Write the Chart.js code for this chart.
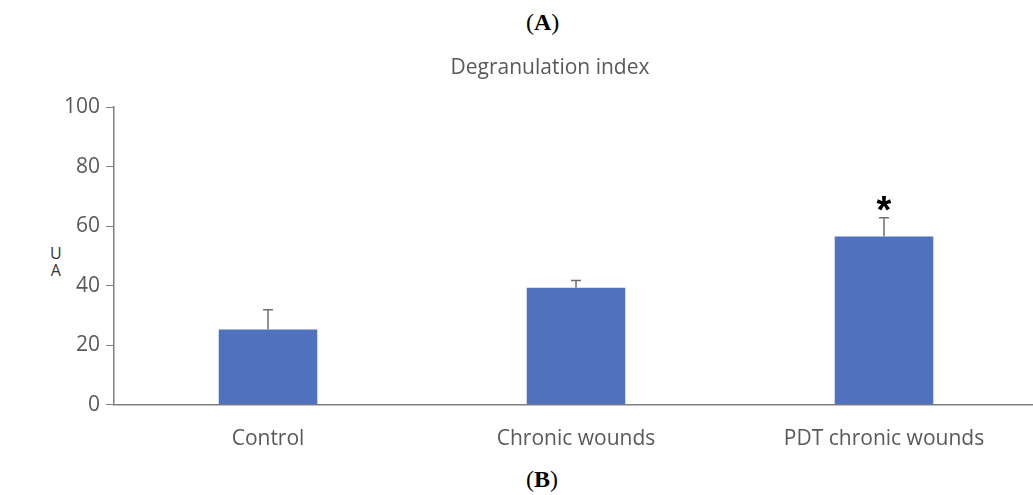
<!DOCTYPE html>
<html>
<head>
<meta charset="utf-8">
<script src="https://cdn.jsdelivr.net/npm/chart.js@4"></script>
<style>
  html, body { margin: 0; padding: 0; background: #fff; overflow: hidden; }
  #wrap { position: relative; width: 1033px; height: 495px; }
  #chart { position: absolute; left: 0; top: 0; }
  .cap { position: absolute; font-family: "Liberation Serif", serif; font-size: 24px; color: #000; }
  .ua { position: absolute; font-family: "Open Sans", sans-serif; font-size: 16px; color: #333; line-height: 17px; text-align: center; }
</style>
</head>
<body>
<div id="wrap">
  <div class="cap" style="left:526px; top:9px;">(<b>A</b>)</div>
  <div class="cap" style="left:526px; top:466px;">(<b>B</b>)</div>
  <div class="ua" style="left:50px; top:245px;">U<br>A</div>
  <canvas id="chart" width="1040" height="495"></canvas>
</div>
<script>
const categories = ['Control', 'Chronic wounds', 'PDT chronic wounds'];
const values = [25.3, 39.3, 56.5];
const errors = [6.6, 2.4, 6.3];
const marks = ['', '', '*'];
const yTicks = [0, 20, 40, 60, 80, 100];

// error bars + significance star
const errorBars = {
    id: 'errorBars',
    afterDatasetsDraw(chart) {
        const ctx = chart.ctx;
        const y = chart.scales.y;
        const meta = chart.getDatasetMeta(0);
        ctx.save();
        ctx.strokeStyle = '#6f6f6f';
        ctx.lineWidth = 1.5;
        meta.data.forEach((bar, i) => {
            const top = y.getPixelForValue(values[i] + errors[i]);
            const base = y.getPixelForValue(values[i]);
            ctx.beginPath();
            ctx.moveTo(bar.x, base);
            ctx.lineTo(bar.x, top);
            ctx.moveTo(bar.x - 5, top);
            ctx.lineTo(bar.x + 5, top);
            ctx.stroke();
            if (marks[i]) {
                ctx.fillStyle = '#000';
                ctx.font = 'bold 38px "Liberation Sans", sans-serif';
                ctx.textAlign = 'center';
                ctx.textBaseline = 'middle';
                ctx.fillText(marks[i], bar.x, top - 5);
            }
        });
        ctx.restore();
    }
};

new Chart(document.getElementById('chart').getContext('2d'), {
    type: 'bar',
    data: {
        labels: categories,
        datasets: [{
            data: values,
            backgroundColor: '#4f71be',
            categoryPercentage: 1,
            barPercentage: 0.32
        }]
    },
    options: {
        responsive: false,
        animation: false,
        layout: { padding: { top: 107, bottom: 29, left: 58, right: 2 } },
        plugins: {
            legend: { display: false },
            tooltip: { enabled: false }
        },
        scales: {
            y: {
                min: 0,
                max: 100,
                afterBuildTicks(axis) {
                    axis.ticks = yTicks.map(v => ({ value: v }));
                },
                ticks: {
                    color: '#595959',
                    padding: 6,
                    font: { family: 'Open Sans', size: 21 }
                },
                grid: {
                    drawOnChartArea: false,
                    tickLength: 8,
                    color: '#7f7f7f'
                },
                border: { color: '#7f7f7f', width: 1.5 }
            },
            x: {
                ticks: {
                    color: '#595959',
                    padding: 14,
                    font: { family: 'Open Sans', size: 21 }
                },
                grid: { display: false },
                border: { color: '#7f7f7f', width: 1.5 }
            }
        }
    },
    plugins: [errorBars, {
        id: 'titleText',
        afterDraw(chart) {
            const ctx = chart.ctx;
            ctx.save();
            ctx.fillStyle = '#595959';
            ctx.font = '21px "Open Sans", sans-serif';
            ctx.textAlign = 'center';
            ctx.textBaseline = 'middle';
            ctx.fillText('Degranulation index', 550, 68);
            ctx.restore();
        }
    }]
});
</script>
</body>
</html>
